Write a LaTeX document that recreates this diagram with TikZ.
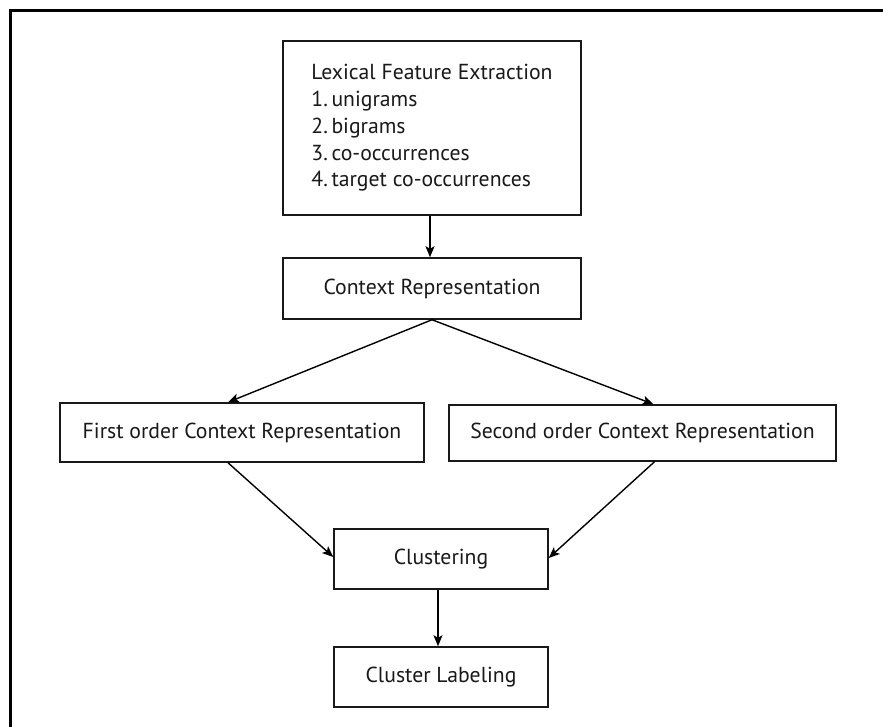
\documentclass[tikz,border=0pt]{standalone}
\usepackage{fontspec}
\setmainfont{PT Sans}
\usetikzlibrary{arrows.meta}
\tikzset{
  box/.style={draw=black!90, line width=1.5pt, rectangle, inner sep=0pt, font=\fontsize{21.7}{26.7}\selectfont, text=black!90},
  arr/.style={draw=black, line width=1.4pt, -{Stealth[length=11pt,width=9pt,inset=2.5pt]}}
}
\begin{document}
\begin{tikzpicture}[x=1pt,y=-1pt]
\useasboundingbox (0,0) rectangle (883,727);
\fill[white] (0,0) rectangle (883,727);
\draw[line width=3pt, black] (10.5,727) -- (10.5,10.5) -- (883,10.5);
\node[box, minimum width=298pt, minimum height=174pt, align=left] (lex) at (432,128)
  {Lexical Feature Extraction\\1.\,unigrams\\2.\,bigrams\\3.\,co-occurrences\\4.\,target co-occurrences};
\node[box, minimum width=298pt, minimum height=61pt] (ctx) at (432,288.5) {Context Representation};
\node[box, minimum width=364pt, minimum height=59pt] (first) at (242,432.5) {First order Context Representation};
\node[box, minimum width=387pt, minimum height=56pt] (second) at (642.5,433) {Second order Context Representation};
\node[box, minimum width=214pt, minimum height=60pt] (clust) at (441,559) {Clustering};
\node[box, minimum width=214pt, minimum height=60pt] (lab) at (441,677) {Cluster Labeling};
\draw[arr] ([xshift=-2pt]lex.south) -- ([xshift=-2pt]ctx.north);
\draw[arr] (ctx.south) -- ([xshift=-14pt]first.north);
\draw[arr] (ctx.south) -- ([xshift=11pt]second.north);
\draw[arr] ([xshift=-14pt]first.south) -- ([yshift=2pt]clust.west);
\draw[arr] ([xshift=12pt]second.south) -- ([yshift=1pt]clust.east);
\draw[arr] ([xshift=-3pt]clust.south) -- ([xshift=-3pt]lab.north);
\end{tikzpicture}
\end{document}
